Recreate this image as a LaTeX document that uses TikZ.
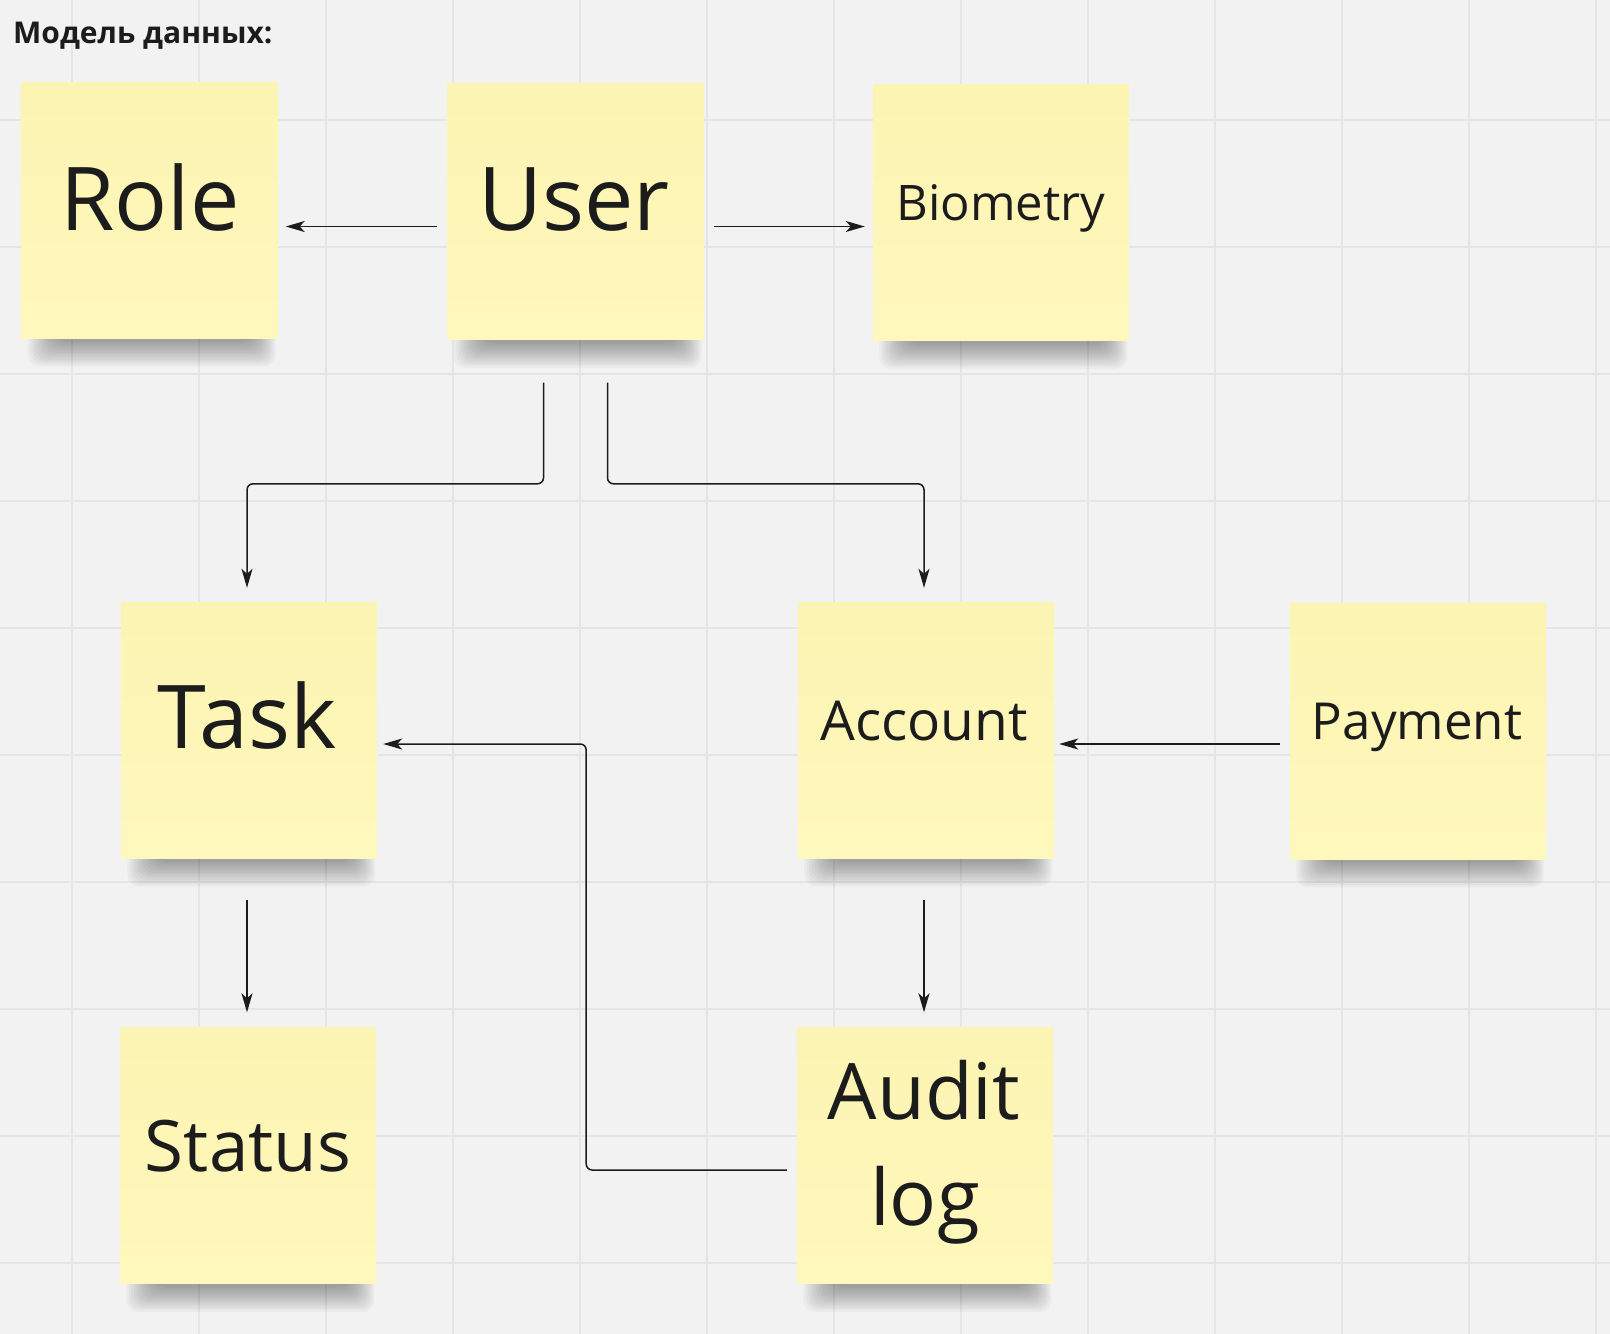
\documentclass[tikz,border=0pt]{standalone}
\usepackage{fontspec}
\setmainfont{Open Sans}
\usetikzlibrary{arrows.meta,calc}
\definecolor{board}{HTML}{F2F2F2}
\definecolor{gridline}{HTML}{E5E5E5}
\definecolor{stickyfill}{HTML}{FFF8BC}
\definecolor{stickytop}{HTML}{FCF4B2}
\definecolor{ink}{HTML}{1C1C1C}
\pgfdeclarelayer{back}
\pgfsetlayers{back,main}
% soft shadow under a sticky note
\newcommand{\stickyshadow}[1]{%
  \foreach \i in {0,...,11}
    \fill[black,opacity=0.03,rounded corners=12pt]
      ([xshift={(34-2.5*\i)*1pt},yshift=14pt]#1.south west) rectangle
      ([xshift={(-24+2*\i)*1pt},yshift={(-4-2.2*\i)*1pt}]#1.south east);}
\begin{document}
\begin{tikzpicture}[x=1pt,y=-1pt,
    sticky/.style={minimum width=256pt,minimum height=256pt,inner sep=0pt,
      top color=stickytop,bottom color=stickyfill},
    notetext/.style={text=ink,anchor=base,inner sep=0pt,font=\fontsize{#1}{#1}\selectfont},
    link/.style={draw=ink,line width=1.5pt,-{Stealth[length=19pt,width=11pt,inset=5pt]}}]
  \useasboundingbox (0,0) rectangle (1610,1334);
  \begin{pgfonlayer}{back}
    \fill[board] (0,0) rectangle (1610,1334);
    \foreach \gx in {72,199,...,1596}
      \draw[gridline,line width=2pt] (\gx,0) -- (\gx,1334);
    \foreach \gy in {120,247,...,1263}
      \draw[gridline,line width=2pt] (0,\gy) -- (1610,\gy);
  \end{pgfonlayer}

  \node[anchor=base west,text=ink,inner sep=0pt,font=\bfseries\fontsize{30}{36}\selectfont]
    (title) at (13,43) {Модель данных:};

  % sticky notes
  \node[sticky] (role)    at (149.5,210)  {};
  \node[sticky] (user)    at (575.5,211.5) {};
  \node[sticky] (bio)     at (1001,212.5) {};
  \node[sticky] (task)    at (249,730)    {};
  \node[sticky] (account) at (926,730)    {};
  \node[sticky] (payment) at (1418,731)   {};
  \node[sticky] (status)  at (248,1155.5) {};
  \node[sticky] (audit)   at (925,1155.5) {};

  \begin{pgfonlayer}{back}
    \foreach \n in {role,user,bio,task,account,payment,status,audit}
      {\stickyshadow{\n}}
  \end{pgfonlayer}

  % labels
  \node[notetext=88] (roletext)    at (150,230)  {Role};
  \node[notetext=88] (usertext)    at (574,230)  {User};
  \node[notetext=49] (biotext)     at (1001,220) {Biometry};
  \node[notetext=88] (tasktext)    at (247,748)  {Task};
  \node[notetext=55] (accounttext) at (924,740)  {Account};
  \node[notetext=51] (paymenttext) at (1417,739) {Payment};
  \node[notetext=71] (statustext)  at (248,1171) {Status};
  \node[notetext=78] (audittext)   at (924,1119) {Audit};
  \node[notetext=78] (logtext)     at (925,1225) {log};

  % connectors
  \draw[link,shorten <=10pt,shorten >=8pt]
    ($(user.west)+(0,15)$) -- ($(user.west -| role.east)+(0,15)$);
  \draw[link,shorten <=10pt,shorten >=8pt]
    ($(user.east)+(0,15)$) -- ($(user.east -| bio.west)+(0,15)$);
  \draw[link,rounded corners=6pt,shorten <=43pt,shorten >=14pt]
    ($(user.south)+(-32,0)$) |- ($(task.north)+(-2,-118)$) -- ($(task.north)+(-2,0)$);
  \draw[link,rounded corners=6pt,shorten <=43pt,shorten >=14pt]
    ($(user.south)+(32,0)$) |- ($(account.north)+(-2,-118)$) -- ($(account.north)+(-2,0)$);
  \draw[link,shorten <=10pt,shorten >=5pt]
    ($(payment.west)+(0,13)$) -- ($(payment.west -| account.east)+(0,13)$);
  \draw[link,shorten <=42pt,shorten >=15pt]
    ($(task.south)+(-2,0)$) -- ($(task.south |- status.north)+(-2,0)$);
  \draw[link,shorten <=42pt,shorten >=15pt]
    ($(account.south)+(-2,0)$) -- ($(account.south |- audit.north)+(-2,0)$);
  \draw[link,rounded corners=6pt,shorten <=10pt,shorten >=6pt]
    ($(audit.west)+(0,14.5)$) -| ($(task.east)+(209,14)$) -- ($(task.east)+(0,14)$);
\end{tikzpicture}
\end{document}
